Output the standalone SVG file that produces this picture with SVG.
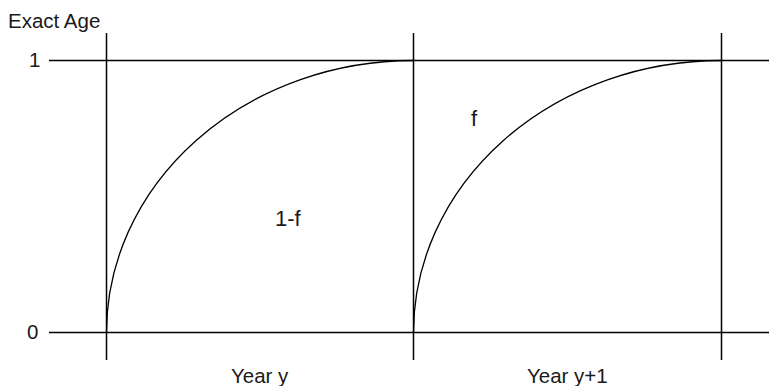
<svg xmlns="http://www.w3.org/2000/svg" width="769" height="386" viewBox="0 0 769 386">
<style>
.ln{stroke:#000;stroke-width:1.5;fill:none}
.cv{stroke:#000;stroke-width:1.3;fill:none}
text{font-family:"Liberation Sans",Arial,sans-serif;font-size:20.5px;fill:#1a1a1a}
.big{font-size:22px}
</style>
<rect width="769" height="386" fill="#fff"/>
<g id="connectors">
<line class="ln" x1="49" y1="60.5" x2="769" y2="60.5"/>
<line class="ln" x1="49" y1="332.5" x2="769" y2="332.5"/>
<line class="ln" x1="106.5" y1="33" x2="106.5" y2="360"/>
<line class="ln" x1="413.5" y1="33" x2="413.5" y2="360"/>
<line class="ln" x1="721.5" y1="33" x2="721.5" y2="360"/>
<path class="cv" d="M106.5,332.5 A307,272 0 0 1 413.5,60.5"/>
<path class="cv" d="M413.5,332.5 A308,272 0 0 1 721.5,60.5"/>
</g>
<g id="labels">
<text x="8" y="28">Exact Age</text>
<text x="29" y="67">1</text>
<text x="27" y="339">0</text>
<text class="big" x="275" y="226">1-f</text>
<text class="big" x="471" y="126">f</text>
<text x="231" y="383">Year y</text>
<text x="527" y="383">Year y+1</text>
</g>
</svg>
